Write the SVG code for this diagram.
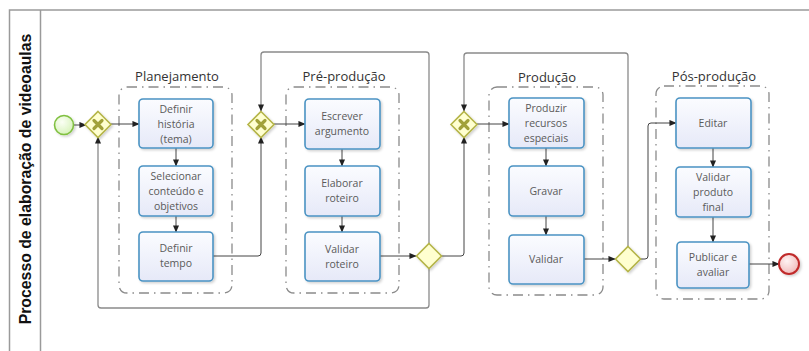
<svg xmlns="http://www.w3.org/2000/svg" width="809" height="351" viewBox="0 0 809 351">
<defs>
<linearGradient id="taskGrad" x1="0" y1="0" x2="0" y2="1">
<stop offset="0" stop-color="#fbfcff"/>
<stop offset="1" stop-color="#e6e9f8"/>
</linearGradient>
<radialGradient id="startGrad" cx="0.4" cy="0.35" r="0.7">
<stop offset="0" stop-color="#fbfff5"/>
<stop offset="1" stop-color="#d6f2b8"/>
</radialGradient>
<radialGradient id="endGrad" cx="0.4" cy="0.35" r="0.7">
<stop offset="0" stop-color="#fff3f3"/>
<stop offset="1" stop-color="#f0b8b8"/>
</radialGradient>
<filter id="shadow" x="-20%" y="-20%" width="150%" height="150%">
<feDropShadow dx="1.5" dy="1.5" stdDeviation="1.2" flood-color="#000" flood-opacity="0.18"/>
</filter>
<marker id="arr" viewBox="0 0 8 8" refX="7.5" refY="4" markerWidth="7" markerHeight="7" markerUnits="userSpaceOnUse" orient="auto">
<path d="M0,0.5 L8,4 L0,7.5 Z" fill="#222"/>
</marker>
</defs>
<style>
.pool{fill:none;stroke:#9a9a9a;stroke-width:1.5}
.lane{font-family:"Liberation Sans",Arial,sans-serif;font-weight:bold;font-size:15.8px;fill:#111}
.grp{fill:none;stroke:#8a8a8a;stroke-width:1.3;stroke-dasharray:10 5 1.5 5}
.glabel{font-family:"Open Sans","Liberation Sans",sans-serif;font-size:13px;fill:#333;text-anchor:middle}
.task rect{fill:url(#taskGrad);stroke:#4b93c3;stroke-width:1.6;filter:url(#shadow)}
.task text{font-family:"Open Sans","Liberation Sans",sans-serif;font-size:10.5px;fill:#5a5a5a;text-anchor:middle}
.gw{fill:#ffffd0;stroke:#b5b548;stroke-width:1.6;filter:url(#shadow)}
.gx{stroke:#a2a23a;stroke-width:3.2;stroke-linecap:round}
.flow{fill:none;stroke:#444;stroke-width:1}
.loop{fill:none;stroke:#8a8a8a;stroke-width:1.3;stroke-linejoin:round}
</style>

<!-- pool -->
<g id="pool">
<path class="pool" d="M809,10 H9.5 V351 M40.5,10 V351"/>
<text class="lane" transform="translate(30.5,179) rotate(-90)" text-anchor="middle">Processo de elaboração de videoaulas</text>
</g>

<!-- groups -->
<g id="grp-planejamento">
<rect class="grp" x="119" y="87" width="113" height="206" rx="8"/>
<text class="glabel" x="177" y="81">Planejamento</text>
</g>
<g id="grp-preproducao">
<rect class="grp" x="286" y="87" width="113" height="206" rx="8"/>
<text class="glabel" x="344" y="81">Pré-produção</text>
</g>
<g id="grp-producao">
<rect class="grp" x="489" y="87" width="114" height="208" rx="8"/>
<text class="glabel" x="547" y="82">Produção</text>
</g>
<g id="grp-posproducao">
<rect class="grp" x="656" y="86" width="113" height="213" rx="8"/>
<text class="glabel" x="714" y="81">Pós-produção</text>
</g>

<!-- connectors -->
<g id="connectors">
<path class="loop" d="M429,244 V55 Q429,52 426,52 H264 Q261,52 261,55 V111" marker-end="url(#arr)"/>
<path class="loop" d="M429,268 V305 Q429,308 426,308 H101 Q98,308 98,305 V137" marker-end="url(#arr)"/>
<path class="loop" d="M628,247 V56 Q628,53 625,53 H467 Q464,53 464,56 V111" marker-end="url(#arr)"/>
<path class="flow" d="M74,125 H86" marker-end="url(#arr)"/>
<path class="flow" d="M111,124 H139" marker-end="url(#arr)"/>
<path class="flow" d="M176,148 V166" marker-end="url(#arr)"/>
<path class="flow" d="M176,216 V232" marker-end="url(#arr)"/>
<path class="flow" d="M213,256 H258 Q261,256 261,253 V137" marker-end="url(#arr)"/>
<path class="flow" d="M274,124 H305" marker-end="url(#arr)"/>
<path class="flow" d="M342,149 V166" marker-end="url(#arr)"/>
<path class="flow" d="M342,216 V232" marker-end="url(#arr)"/>
<path class="flow" d="M380,256 H416" marker-end="url(#arr)"/>
<path class="flow" d="M441,256 H461 Q464,256 464,253 V137" marker-end="url(#arr)"/>
<path class="flow" d="M477,124 H509" marker-end="url(#arr)"/>
<path class="flow" d="M546,148 V166" marker-end="url(#arr)"/>
<path class="flow" d="M546,216 V235" marker-end="url(#arr)"/>
<path class="flow" d="M584,259 H615" marker-end="url(#arr)"/>
<path class="flow" d="M640,259 H645 Q648,259 648,256 V126 Q648,123 651,123 H676" marker-end="url(#arr)"/>
<path class="flow" d="M713,148 V167" marker-end="url(#arr)"/>
<path class="flow" d="M713,217 V242" marker-end="url(#arr)"/>
<path class="flow" d="M749,264 H779" marker-end="url(#arr)"/>
</g>

<!-- events -->
<g id="start">
<circle cx="64" cy="125" r="9.5" fill="url(#startGrad)" stroke="#80c040" stroke-width="1.6" filter="url(#shadow)"/>
</g>
<g id="end">
<circle cx="789" cy="264" r="10" fill="url(#endGrad)" stroke="#c02a2a" stroke-width="2" filter="url(#shadow)"/>
</g>

<!-- gateways -->
<g id="gw1">
<path class="gw" d="M98,111.5 L111,124.5 L98,137.5 L85,124.5 Z"/>
<path class="gx" d="M94,120.5 L102,128.5 M102,120.5 L94,128.5"/>
</g>
<g id="gw2">
<path class="gw" d="M261,111.5 L274,124.5 L261,137.5 L248,124.5 Z"/>
<path class="gx" d="M257,120.5 L265,128.5 M265,120.5 L257,128.5"/>
</g>
<g id="gw3">
<path class="gw" d="M429,243.5 L441.5,256 L429,268.5 L416.5,256 Z"/>
</g>
<g id="gw4">
<path class="gw" d="M464,111.5 L477,124.5 L464,137.5 L451,124.5 Z"/>
<path class="gx" d="M460,120.5 L468,128.5 M468,120.5 L460,128.5"/>
</g>
<g id="gw5">
<path class="gw" d="M628,246.5 L640.5,259 L628,271.5 L615.5,259 Z"/>
</g>

<!-- tasks -->
<g id="t-definir-historia" class="task">
<rect x="139" y="99" width="74" height="49" rx="4"/>
<text x="176" y="113">Definir</text>
<text x="176" y="128">história</text>
<text x="176" y="143">(tema)</text>
</g>
<g id="t-selecionar" class="task">
<rect x="139" y="166" width="74" height="50" rx="4"/>
<text x="176" y="180">Selecionar</text>
<text x="176" y="195">conteúdo e</text>
<text x="176" y="210">objetivos</text>
</g>
<g id="t-definir-tempo" class="task">
<rect x="139" y="232" width="74" height="49" rx="4"/>
<text x="176" y="252">Definir</text>
<text x="176" y="267">tempo</text>
</g>
<g id="t-escrever" class="task">
<rect x="305" y="99" width="75" height="50" rx="4"/>
<text x="342" y="120">Escrever</text>
<text x="342" y="135">argumento</text>
</g>
<g id="t-elaborar" class="task">
<rect x="305" y="166" width="75" height="50" rx="4"/>
<text x="342" y="187">Elaborar</text>
<text x="342" y="202">roteiro</text>
</g>
<g id="t-validar-roteiro" class="task">
<rect x="305" y="232" width="75" height="49" rx="4"/>
<text x="342" y="253">Validar</text>
<text x="342" y="268">roteiro</text>
</g>
<g id="t-produzir" class="task">
<rect x="509" y="98" width="75" height="50" rx="4"/>
<text x="546" y="112">Produzir</text>
<text x="546" y="127">recursos</text>
<text x="546" y="142">especiais</text>
</g>
<g id="t-gravar" class="task">
<rect x="509" y="166" width="75" height="50" rx="4"/>
<text x="546" y="195">Gravar</text>
</g>
<g id="t-validar" class="task">
<rect x="509" y="235" width="75" height="49" rx="4"/>
<text x="546" y="263">Validar</text>
</g>
<g id="t-editar" class="task">
<rect x="676" y="98" width="75" height="50" rx="4"/>
<text x="713" y="127">Editar</text>
</g>
<g id="t-validar-produto" class="task">
<rect x="676" y="167" width="75" height="50" rx="4"/>
<text x="713" y="181">Validar</text>
<text x="713" y="196">produto</text>
<text x="713" y="211">final</text>
</g>
<g id="t-publicar" class="task">
<rect x="677" y="242" width="72" height="46" rx="4"/>
<text x="713" y="261">Publicar e</text>
<text x="713" y="276">avaliar</text>
</g>
</svg>
